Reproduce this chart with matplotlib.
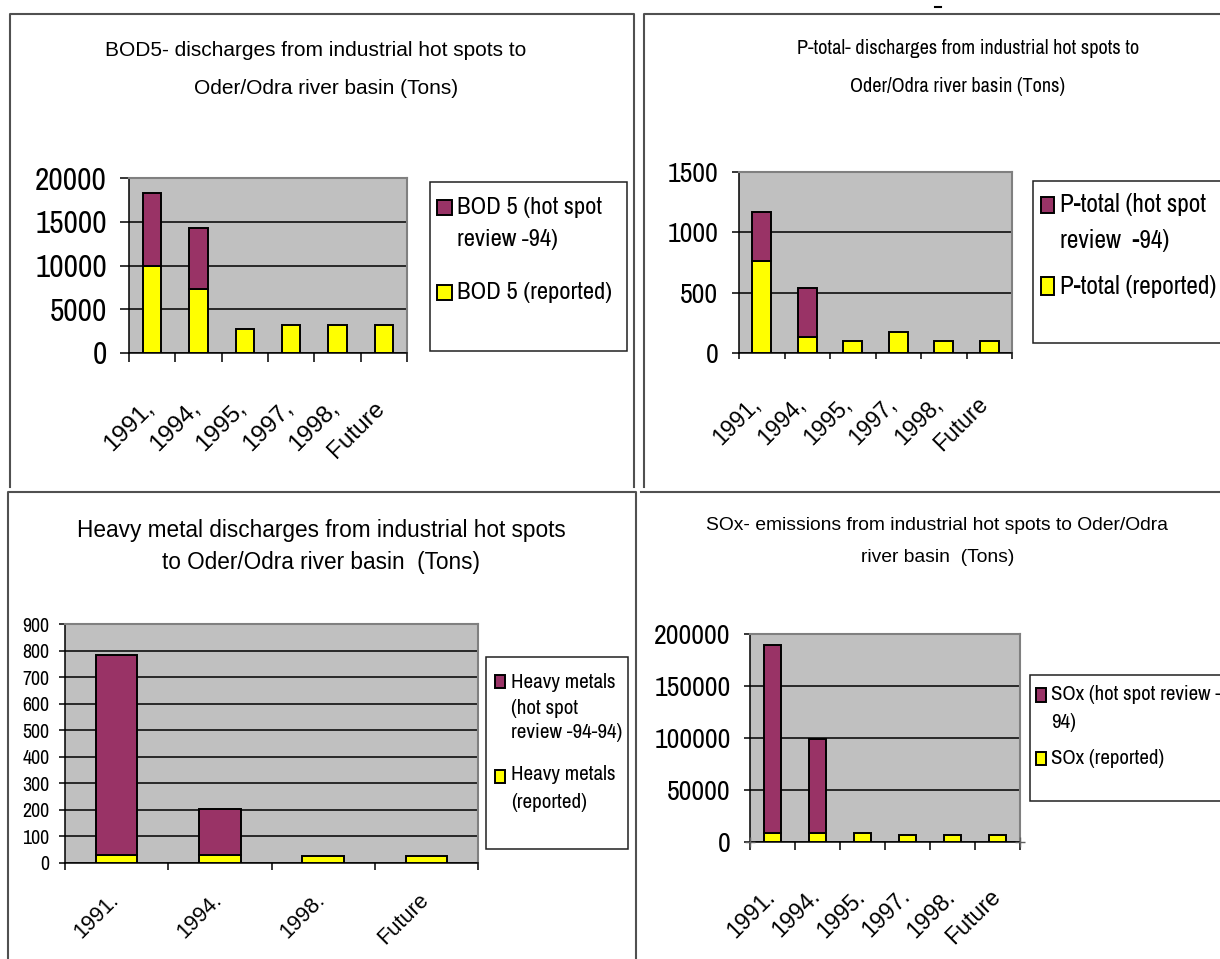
import matplotlib
matplotlib.use('Agg')
import matplotlib.pyplot as plt
from matplotlib import font_manager
from matplotlib.font_manager import FontProperties
from matplotlib.textpath import TextPath
from matplotlib.patches import Rectangle
from matplotlib.lines import Line2D

plt.rcParams['font.family'] = ['Liberation Sans', 'DejaVu Sans']

# ---- data ----
bod_years = ["1991,", "1994,", "1995,", "1997,", "1998,", "Future"]
bod_reported = [9900, 7300, 2800, 3200, 3200, 3200]
bod_hotspot = [8350, 6950, 0, 0, 0, 0]

p_years = ["1991,", "1994,", "1995,", "1997,", "1998,", "Future"]
p_reported = [760, 130, 100, 170, 100, 100]
p_hotspot = [410, 410, 0, 0, 0, 0]

hm_years = ["1991.", "1994.", "1998.", "Future"]
hm_reported = [30, 30, 28, 28]
hm_hotspot = [755, 175, 0, 0]

sox_years = ["1991.", "1994.", "1995.", "1997.", "1998.", "Future"]
sox_reported = [9000, 9000, 8700, 7100, 7100, 7100]
sox_hotspot = [180000, 90500, 0, 0, 0, 0]

MAROON = '#993366'
YELLOW = '#FFFF00'
PLOTBG = '#C0C0C0'
FAMILY = ['Liberation Sans', 'DejaVu Sans']


def find_condensed():
    # the scanned text is taller than wide; look for a condensed sans face
    sample = "BOD 5 (hot spot) 20000"
    try:
        w_reg = TextPath((0, 0), sample, size=10,
                         prop=FontProperties(family='Liberation Sans')).get_extents().width
    except Exception:
        return None
    best = None
    for f in font_manager.fontManager.ttflist:
        name = f.name
        cond = str(f.stretch) in ('condensed', 'semi-condensed', 'extra-condensed') \
            or 'Condensed' in name or 'Narrow' in name
        if not cond or f.style != 'normal':
            continue
        if any(k in name for k in ('Mono', 'Serif', 'CJK', 'Display')):
            continue
        wt = f.weight
        if isinstance(wt, str):
            if wt not in ('normal', 'regular', 'book', 'medium'):
                continue
        elif not 350 <= wt <= 500:
            continue
        if not f.fname.lower().endswith(('.ttf', '.otf')):
            continue
        try:
            w = TextPath((0, 0), sample, size=10,
                         prop=FontProperties(fname=f.fname)).get_extents().width
        except Exception:
            continue
        r = w / w_reg
        if 0.74 <= r <= 0.92 and (best is None or abs(r - 0.81) < abs(best[1] - 0.81)):
            best = (f.fname, r)
    return best


COND = find_condensed()


def fprop(size, stretch=False):
    if stretch and COND:
        return FontProperties(fname=COND[0], size=size / COND[1])
    return FontProperties(family=FAMILY, size=size)


W, H = 1220, 959
fig = plt.figure(figsize=(W / 100, H / 100), dpi=100)


def fx(x):
    return x / W


def fy(y):
    return 1 - y / H


def px_axes(x0, y0, x1, y1):
    return fig.add_axes([fx(x0), fy(y1), (x1 - x0) / W, (y1 - y0) / H])


def ftext(x, y, s, size, ha='center', va='center', stretch=False):
    fig.text(fx(x), fy(y), s, ha=ha, va=va, fontproperties=fprop(size, stretch))


def fline(pts, color='#505050', lw=1.5):
    xs = [fx(p[0]) for p in pts]
    ys = [fy(p[1]) for p in pts]
    fig.add_artist(Line2D(xs, ys, color=color, lw=lw, transform=fig.transFigure))


def bar_panel(rect, cats, reported, hotspot, ymax, ystep, ysize, ypad, ylen,
              xlen, bar_w, xsize, xdx, xdy):
    ax = px_axes(*rect)
    ax.set_facecolor(PLOTBG)
    x = list(range(len(cats)))
    ax.bar(x, reported, bar_w, color=YELLOW, edgecolor='black', linewidth=1.4, zorder=3)
    hx = [i for i in x if hotspot[i] > 0]
    ax.bar(hx, [hotspot[i] for i in hx], bar_w, bottom=[reported[i] for i in hx],
           color=MAROON, edgecolor='black', linewidth=1.4, zorder=3)
    ax.set_xlim(-0.5, len(cats) - 0.5)
    ax.set_ylim(0, ymax)
    ax.set_yticks(range(0, ymax + 1, ystep))
    ax.yaxis.grid(True, color='black', lw=1.1)
    ax.set_axisbelow(True)
    ax.set_xticks([i - 0.5 for i in range(len(cats) + 1)])
    ax.set_xticklabels([])
    ax.tick_params(axis='x', length=xlen, width=1.1, direction='out')
    ax.tick_params(axis='y', length=ylen, width=1.1, direction='out', pad=ypad)
    for t in ax.get_yticklabels():
        t.set_fontproperties(fprop(ysize, True))
    for s in ['left', 'bottom']:
        ax.spines[s].set_color('black')
        ax.spines[s].set_linewidth(1.1)
    for s in ['top', 'right']:
        ax.spines[s].set_color('#808080')
        ax.spines[s].set_linewidth(1.5)
    for i, lab in enumerate(cats):
        ax.annotate(lab, xy=(i, 0), xycoords=ax.get_xaxis_transform(),
                    xytext=(xdx, -xdy), textcoords='offset pixels',
                    ha='right', va='center', rotation=45, rotation_mode='anchor',
                    fontsize=xsize, annotation_clip=False)
    return ax


def legend_box(box, entries, tx, size, stretch=True):
    x0, y0, x1, y1 = box
    fig.add_artist(Rectangle((fx(x0), fy(y1)), (x1 - x0) / W, (y1 - y0) / H,
                             transform=fig.transFigure, facecolor='white',
                             edgecolor='#202020', lw=1.1))
    for color, (mx0, my0, mx1, my1), lines in entries:
        fig.add_artist(Rectangle((fx(mx0), fy(my1)), (mx1 - mx0) / W, (my1 - my0) / H,
                                 transform=fig.transFigure, facecolor=color,
                                 edgecolor='black', lw=1.4))
        for s, ly in lines:
            ftext(tx, ly, s, size, ha='left', stretch=stretch)


# ---- panel frames ----
fline([(9.5, 487), (9.5, 14), (634, 14), (634, 487)])
fline([(644, 487), (644, 14), (1222, 14)])
fline([(8, 962), (8, 492), (636, 492), (636, 962)])
fline([(641, 492), (1222, 492)])
fline([(935, 6.5), (941, 6.5)], color='black', lw=1.5)

# ---- top left: BOD5 ----
ftext(316, 50, "BOD5- discharges from industrial hot spots to", 15)
ftext(326, 89, "Oder/Odra river basin (Tons)", 15)
bar_panel((129, 178, 407, 353), bod_years, bod_reported, bod_hotspot,
          20000, 5000, 18.5, 9.6, 6.3, 6.7, 0.39, 17.5, -2, 52)
legend_box((430, 182, 627, 351),
           [(MAROON, (437, 200, 452, 215), [("BOD 5 (hot spot", 208), ("review -94)", 240)]),
            (YELLOW, (437, 285, 452, 300), [("BOD 5 (reported)", 292)])],
           457, 14.5)

# ---- top right: P-total ----
ftext(968, 49, "P-total- discharges from industrial hot spots to", 12, stretch=True)
ftext(958, 86, "Oder/Odra river basin (Tons)", 12, stretch=True)
bar_panel((739, 172, 1012, 353), p_years, p_reported, p_hotspot,
          1500, 500, 16.4, 9.6, 5.3, 4.1, 0.42, 16.5, -5, 48)
legend_box((1033, 181, 1232, 343),
           [(MAROON, (1041, 197, 1054, 213), [("P-total (hot spot", 205), ("review  -94)", 240)]),
            (YELLOW, (1041, 277, 1054, 295), [("P-total (reported)", 286)])],
           1060, 14.9)

# ---- bottom left: heavy metals ----
ftext(321, 530, "Heavy metal discharges from industrial hot spots", 16.3)
ftext(321, 562, "to Oder/Odra river basin  (Tons)", 16.3)
bar_panel((65, 624, 478, 863), hm_years, hm_reported, hm_hotspot,
          900, 100, 11.8, 6.8, 4.4, 5.3, 0.4, 15.7, -1, 34)
legend_box((486, 657, 628, 849),
           [(MAROON, (495, 675, 505, 688), [("Heavy metals", 682), ("(hot spot", 708), ("review -94-94)", 733)]),
            (YELLOW, (495, 770, 505, 783), [("Heavy metals", 775), ("(reported)", 802)])],
           511, 12.4)

# ---- bottom right: SOx ----
ftext(937, 525, "SOx- emissions from industrial hot spots to Oder/Odra", 13.9)
ftext(938, 558, "river basin  (Tons)", 13.9)
ax4 = bar_panel((750, 634, 1020, 842), sox_years, sox_reported, sox_hotspot,
                200000, 50000, 16.4, 9.4, 4.5, 6, 0.39, 16.7, -1, 51)
ax4.plot([0, 1], [0, 0], ls='none', marker='+', ms=7, mew=1.0, color='#606060',
         transform=ax4.transAxes, clip_on=False, zorder=5)
legend_box((1030, 675, 1232, 801),
           [(MAROON, (1036, 688, 1046, 702), [("SOx (hot spot review -", 695), ("94)", 723)]),
            (YELLOW, (1036, 752, 1046, 765), [("SOx (reported)", 758)])],
           1051, 12.3)

fig.savefig('out.png', dpi=100)
